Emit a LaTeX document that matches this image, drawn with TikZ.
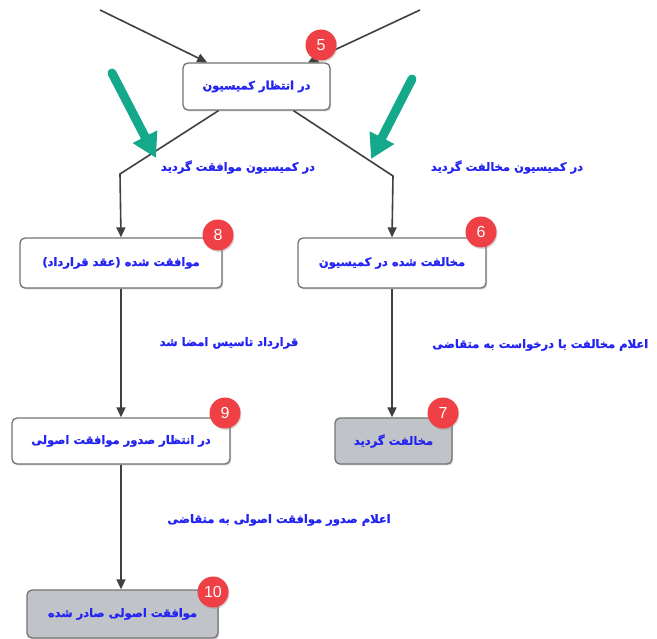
\documentclass[tikz,border=0pt]{standalone}
\usepackage{fontspec}
\setmainfont{Liberation Sans}
\newfontfamily\arabicfont[Script=Arabic,FakeBold=1.2]{DejaVu Sans}
\TeXXeTstate=1
\usetikzlibrary{arrows.meta,shadows,calc}
\definecolor{txtblue}{HTML}{2424F2}
\definecolor{badgered}{HTML}{EF4045}
\definecolor{boxgray}{HTML}{C0C4C8}
\definecolor{arrowgreen}{HTML}{14A98A}
\definecolor{linegray}{HTML}{404040}
\newcommand{\rtl}[1]{\arabicfont\bfseries\beginR #1\endR}
\tikzset{
  state/.style={draw=black!55, line width=1.3pt, rounded corners=5pt, fill=white,
    inner sep=0pt, font=\fontsize{11.5}{12}\selectfont, text=txtblue,
    drop shadow={shadow xshift=1.2pt, shadow yshift=-1.5pt, opacity=0.35}},
  final/.style={state, fill=boxgray},
  badge/.style={circle, fill=badgered, minimum size=31pt, inner sep=0pt, text=white,
    font=\fontsize{16}{16}\selectfont,
    drop shadow={shadow xshift=1pt, shadow yshift=-1.5pt, opacity=0.3}},
  conn/.style={draw=linegray, line width=1.6pt, -{Triangle[length=10pt,width=9pt]}},
  elabel/.style={text=txtblue, font=\fontsize{11.5}{12}\selectfont, inner sep=0pt},
  hint/.style={draw=arrowgreen, line width=9pt, line cap=round,
    -{Triangle[length=24pt,width=26pt]},
    drop shadow={shadow xshift=1pt, shadow yshift=-1.5pt, opacity=0.25}},
}
\begin{document}
\begin{tikzpicture}[x=1pt,y=-1pt]
\useasboundingbox (0,0) rectangle (657,639);
% nodes
\node[state, minimum width=147pt, minimum height=47pt] (n5) at (256.5,86.5) {\rtl{در انتظار کمیسیون}};
\node[state, minimum width=202pt, minimum height=50pt] (n8) at (121,263) {\rtl{موافقت شده (عقد قرارداد)}};
\node[state, minimum width=188pt, minimum height=50pt] (n6) at (392,263) {\rtl{مخالفت شده در کمیسیون}};
\node[state, minimum width=218pt, minimum height=46pt] (n9) at (121,441) {\rtl{در انتظار صدور موافقت اصولی}};
\node[final, minimum width=117pt, minimum height=46pt] (n7) at (393.5,441) {\rtl{مخالفت گردید}};
\node[final, minimum width=191pt, minimum height=48pt] (n10) at (122.5,614) {\rtl{موافقت اصولی صادر شده}};
% incoming connectors
\coordinate (s1) at (100,10);
\coordinate (s2) at (420,10);
\draw[conn] (s1) -- (n5);
\draw[conn] (s2) -- (n5);
% branch connectors
\draw[conn] ($(n5.south)+(-38,0)$) -- (120,174) -- (n8.north);
\draw[conn] ($(n5.south)+(37,0)$) -- (393,176) -- (n6.north);
\draw[conn] (n8) -- (n9);
\draw[conn] (n6.south) -- (n7.north -| n6.south);
\draw[conn] (n9) -- (n10.north -| n9.south);
% edge labels
\node[elabel] (l1) at (238,167) {\rtl{در کمیسیون موافقت گردید}};
\node[elabel] (l2) at (507,167) {\rtl{در کمیسیون مخالفت گردید}};
\node[elabel] (l3) at (229,343) {\rtl{قرارداد تاسیس امضا شد}};
\node[elabel, anchor=west] (l4) at (432,345) {\rtl{اعلام مخالفت با درخواست به متقاضی}};
\node[elabel] (l5) at (279,520) {\rtl{اعلام صدور موافقت اصولی به متقاضی}};
% green hint arrows
\coordinate (g1s) at (112,73);
\coordinate (g1e) at (156,158);
\coordinate (g2s) at (412,79);
\coordinate (g2e) at (371,159);
\draw[hint] (g1s) -- (g1e);
\draw[hint] (g2s) -- (g2e);
% badges
\node[badge] (b5) at (321,45) {5};
\node[badge] (b8) at (218,235) {8};
\node[badge] (b6) at (481,232) {6};
\node[badge] (b9) at (225,413) {9};
\node[badge] (b7) at (443,413) {7};
\node[badge] (b10) at (213,592) {10};
\end{tikzpicture}
\end{document}
